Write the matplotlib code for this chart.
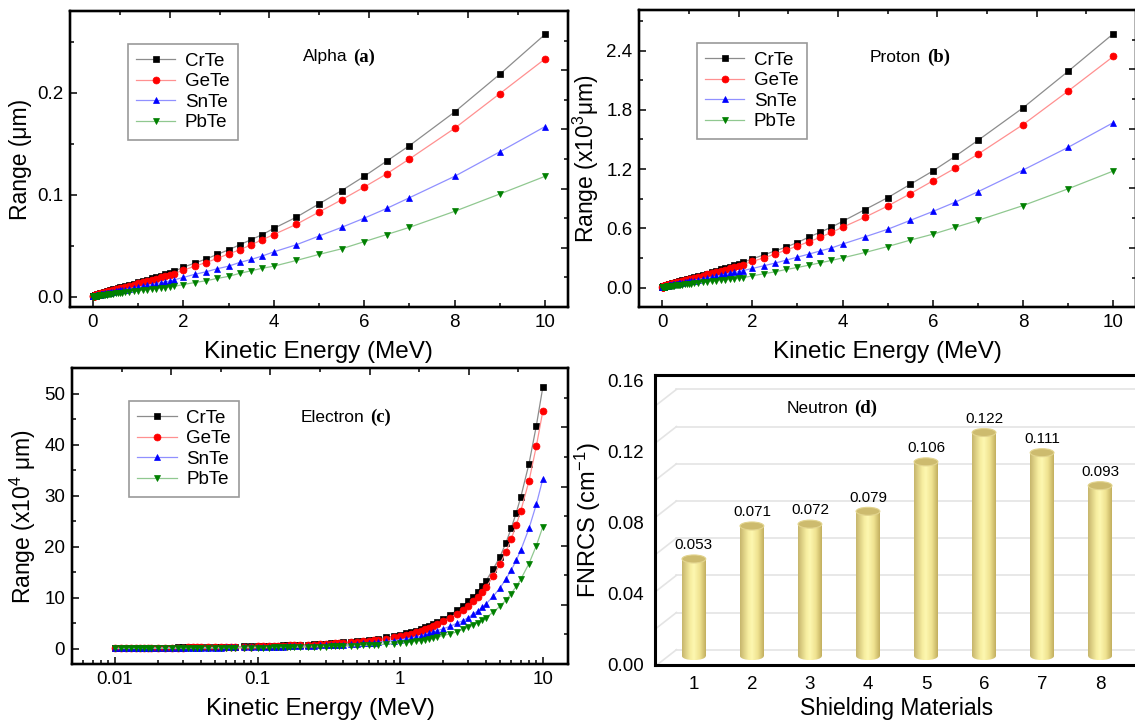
#######################################
# import libraries and useful modules #
#######################################
import numpy as np
import matplotlib
matplotlib.use("Agg")
import matplotlib.pyplot as plt
from matplotlib.patches import Ellipse
from matplotlib.colors import LinearSegmentedColormap
from matplotlib.ticker import MultipleLocator, LogLocator, NullFormatter

plt.rcParams['font.family'] = ['Liberation Sans', 'DejaVu Sans']
plt.rcParams['mathtext.fontset'] = 'custom'
plt.rcParams['mathtext.rm'] = 'Liberation Sans'
plt.rcParams['mathtext.it'] = 'Liberation Sans:italic'

########
# data #
########
materials = ["CrTe", "GeTe", "SnTe", "PbTe"]

# kinetic energy grid (MeV), same for the three range panels
energy = [0.010, 0.011, 0.012, 0.013, 0.014, 0.015, 0.016, 0.017, 0.018, 0.020,
          0.0225, 0.025, 0.0275, 0.030, 0.0325, 0.035, 0.0375, 0.040, 0.045, 0.050,
          0.055, 0.060, 0.065, 0.070, 0.080, 0.090, 0.100, 0.110, 0.120, 0.130,
          0.140, 0.150, 0.160, 0.170, 0.180, 0.200, 0.225, 0.250, 0.275, 0.300,
          0.325, 0.350, 0.375, 0.400, 0.450, 0.500, 0.550, 0.600, 0.650, 0.700,
          0.800, 0.900, 1.00, 1.10, 1.20, 1.30, 1.40, 1.50, 1.60, 1.70,
          1.80, 2.00, 2.25, 2.50, 2.75, 3.00, 3.25, 3.50, 3.75, 4.00,
          4.50, 5.00, 5.50, 6.00, 6.50, 7.00, 8.00, 9.00, 10.0]

# alpha range (um)
alpha_crte = [0.0005, 0.0005, 0.0006, 0.0006, 0.0006, 0.0007, 0.0007, 0.0007, 0.0008, 0.0008,
              0.0009, 0.0010, 0.0010, 0.0011, 0.0011, 0.0012, 0.0012, 0.0013, 0.0014, 0.0015,
              0.0016, 0.0017, 0.0018, 0.0019, 0.0020, 0.0022, 0.0024, 0.0025, 0.0027, 0.0028,
              0.0030, 0.0031, 0.0033, 0.0034, 0.0036, 0.0039, 0.0042, 0.0046, 0.0049, 0.0053,
              0.0056, 0.0059, 0.0062, 0.0067, 0.0074, 0.0080, 0.0087, 0.0093, 0.0099, 0.0105,
              0.0118, 0.0130, 0.0142, 0.0155, 0.0168, 0.0181, 0.0194, 0.0208, 0.0222, 0.0236,
              0.0250, 0.0290, 0.0330, 0.0370, 0.0415, 0.0460, 0.0510, 0.0560, 0.0610, 0.0670,
              0.0780, 0.0910, 0.1040, 0.1180, 0.1330, 0.1480, 0.1810, 0.2180, 0.2570]
alpha_gete = [0.0005, 0.0005, 0.0005, 0.0006, 0.0006, 0.0006, 0.0007, 0.0007, 0.0007, 0.0008,
              0.0008, 0.0009, 0.0010, 0.0010, 0.0011, 0.0011, 0.0012, 0.0012, 0.0013, 0.0014,
              0.0015, 0.0016, 0.0017, 0.0018, 0.0019, 0.0021, 0.0022, 0.0023, 0.0025, 0.0026,
              0.0028, 0.0029, 0.0030, 0.0032, 0.0033, 0.0036, 0.0039, 0.0042, 0.0045, 0.0049,
              0.0052, 0.0055, 0.0058, 0.0061, 0.0067, 0.0073, 0.0079, 0.0085, 0.0090, 0.0096,
              0.0108, 0.0119, 0.0131, 0.0142, 0.0154, 0.0165, 0.0177, 0.0190, 0.0202, 0.0215,
              0.0228, 0.0260, 0.0300, 0.0335, 0.0376, 0.0420, 0.0460, 0.0510, 0.0560, 0.0610,
              0.0710, 0.0830, 0.0950, 0.1075, 0.1205, 0.1350, 0.1650, 0.1990, 0.2330]
alpha_snte = [0.0004, 0.0004, 0.0004, 0.0004, 0.0005, 0.0005, 0.0005, 0.0005, 0.0005, 0.0006,
              0.0006, 0.0007, 0.0007, 0.0008, 0.0008, 0.0008, 0.0009, 0.0009, 0.0010, 0.0010,
              0.0011, 0.0012, 0.0012, 0.0013, 0.0014, 0.0015, 0.0016, 0.0017, 0.0018, 0.0019,
              0.0020, 0.0021, 0.0022, 0.0023, 0.0024, 0.0026, 0.0029, 0.0031, 0.0033, 0.0036,
              0.0038, 0.0040, 0.0042, 0.0045, 0.0049, 0.0054, 0.0058, 0.0062, 0.0066, 0.0070,
              0.0078, 0.0087, 0.0095, 0.0103, 0.0112, 0.0120, 0.0129, 0.0138, 0.0147, 0.0156,
              0.0166, 0.0190, 0.0220, 0.0245, 0.0275, 0.0300, 0.0337, 0.0366, 0.0400, 0.0440,
              0.0510, 0.0595, 0.0680, 0.0770, 0.0866, 0.0970, 0.1180, 0.1420, 0.1667]
alpha_pbte = [0.0002, 0.0002, 0.0002, 0.0003, 0.0003, 0.0003, 0.0003, 0.0003, 0.0003, 0.0003,
              0.0004, 0.0004, 0.0004, 0.0004, 0.0005, 0.0005, 0.0005, 0.0005, 0.0006, 0.0006,
              0.0007, 0.0007, 0.0007, 0.0008, 0.0008, 0.0009, 0.0010, 0.0010, 0.0011, 0.0011,
              0.0012, 0.0013, 0.0013, 0.0014, 0.0015, 0.0016, 0.0018, 0.0019, 0.0021, 0.0022,
              0.0023, 0.0025, 0.0026, 0.0028, 0.0031, 0.0033, 0.0036, 0.0039, 0.0041, 0.0044,
              0.0049, 0.0054, 0.0059, 0.0064, 0.0069, 0.0074, 0.0080, 0.0085, 0.0091, 0.0096,
              0.0102, 0.0120, 0.0140, 0.0157, 0.0180, 0.0200, 0.0230, 0.0255, 0.0280, 0.0300,
              0.0356, 0.0415, 0.0470, 0.0540, 0.0610, 0.0680, 0.0837, 0.1007, 0.1180]

# proton range (x10^3 um)
proton_crte = [0.005, 0.005, 0.006, 0.006, 0.006, 0.007, 0.007, 0.007, 0.008, 0.008,
               0.009, 0.010, 0.010, 0.011, 0.011, 0.012, 0.012, 0.013, 0.014, 0.015,
               0.016, 0.017, 0.018, 0.019, 0.020, 0.022, 0.024, 0.025, 0.027, 0.028,
               0.030, 0.031, 0.033, 0.034, 0.036, 0.039, 0.042, 0.046, 0.049, 0.053,
               0.056, 0.059, 0.062, 0.066, 0.072, 0.079, 0.085, 0.091, 0.097, 0.104,
               0.117, 0.129, 0.142, 0.155, 0.169, 0.183, 0.197, 0.211, 0.226, 0.241,
               0.257, 0.290, 0.330, 0.370, 0.410, 0.456, 0.510, 0.560, 0.610, 0.670,
               0.790, 0.910, 1.045, 1.180, 1.330, 1.490, 1.820, 2.190, 2.570]
proton_gete = [0.005, 0.005, 0.005, 0.006, 0.006, 0.006, 0.007, 0.007, 0.007, 0.008,
               0.008, 0.009, 0.010, 0.010, 0.011, 0.011, 0.012, 0.012, 0.013, 0.014,
               0.015, 0.016, 0.017, 0.018, 0.019, 0.021, 0.022, 0.023, 0.025, 0.026,
               0.028, 0.029, 0.030, 0.032, 0.033, 0.036, 0.039, 0.042, 0.045, 0.049,
               0.052, 0.055, 0.058, 0.061, 0.067, 0.073, 0.079, 0.085, 0.091, 0.097,
               0.109, 0.121, 0.133, 0.145, 0.157, 0.169, 0.182, 0.195, 0.207, 0.220,
               0.233, 0.264, 0.300, 0.338, 0.380, 0.420, 0.463, 0.507, 0.558, 0.610,
               0.713, 0.825, 0.950, 1.080, 1.210, 1.350, 1.650, 1.990, 2.340]
proton_snte = [0.004, 0.004, 0.004, 0.004, 0.005, 0.005, 0.005, 0.005, 0.005, 0.006,
               0.006, 0.007, 0.007, 0.008, 0.008, 0.008, 0.009, 0.009, 0.010, 0.010,
               0.011, 0.012, 0.012, 0.013, 0.014, 0.015, 0.016, 0.017, 0.018, 0.019,
               0.020, 0.021, 0.022, 0.023, 0.024, 0.026, 0.029, 0.031, 0.033, 0.036,
               0.038, 0.040, 0.042, 0.045, 0.049, 0.054, 0.058, 0.062, 0.066, 0.070,
               0.079, 0.088, 0.097, 0.106, 0.115, 0.124, 0.134, 0.143, 0.153, 0.162,
               0.172, 0.193, 0.220, 0.247, 0.277, 0.308, 0.338, 0.370, 0.400, 0.440,
               0.514, 0.590, 0.680, 0.770, 0.865, 0.970, 1.190, 1.420, 1.670]
proton_pbte = [0.002, 0.002, 0.002, 0.003, 0.003, 0.003, 0.003, 0.003, 0.003, 0.003,
               0.004, 0.004, 0.004, 0.004, 0.005, 0.005, 0.005, 0.005, 0.006, 0.006,
               0.007, 0.007, 0.007, 0.008, 0.008, 0.009, 0.010, 0.010, 0.011, 0.011,
               0.012, 0.013, 0.013, 0.014, 0.015, 0.016, 0.017, 0.019, 0.020, 0.022,
               0.023, 0.024, 0.025, 0.027, 0.029, 0.032, 0.034, 0.037, 0.039, 0.042,
               0.047, 0.052, 0.057, 0.062, 0.067, 0.072, 0.077, 0.082, 0.087, 0.093,
               0.100, 0.118, 0.139, 0.159, 0.183, 0.203, 0.226, 0.250, 0.274, 0.300,
               0.355, 0.415, 0.480, 0.540, 0.610, 0.680, 0.830, 1.000, 1.180]

# electron range (x10^4 um)
electron_crte = [0.10, 0.11, 0.12, 0.13, 0.14, 0.15, 0.16, 0.17, 0.18, 0.19,
                 0.21, 0.22, 0.24, 0.25, 0.26, 0.27, 0.28, 0.29, 0.31, 0.33,
                 0.35, 0.37, 0.38, 0.40, 0.43, 0.46, 0.49, 0.52, 0.55, 0.58,
                 0.60, 0.63, 0.66, 0.68, 0.71, 0.76, 0.82, 0.88, 0.94, 1.00,
                 1.06, 1.11, 1.17, 1.22, 1.33, 1.44, 1.55, 1.66, 1.77, 1.88,
                 2.20, 2.45, 2.70, 3.00, 3.25, 3.55, 3.85, 4.20, 4.50, 4.85,
                 5.20, 5.90, 6.70, 7.50, 8.40, 9.30, 10.2, 11.2, 12.3, 13.3,
                 15.7, 18.0, 20.7, 23.6, 26.6, 29.7, 36.3, 43.7, 51.3]
electron_gete = [0.09, 0.10, 0.11, 0.12, 0.13, 0.14, 0.15, 0.16, 0.16, 0.18,
                 0.19, 0.21, 0.22, 0.23, 0.24, 0.25, 0.26, 0.27, 0.29, 0.31,
                 0.32, 0.34, 0.35, 0.37, 0.40, 0.42, 0.45, 0.48, 0.50, 0.53,
                 0.55, 0.58, 0.60, 0.63, 0.65, 0.70, 0.75, 0.81, 0.86, 0.92,
                 0.97, 1.02, 1.07, 1.12, 1.22, 1.32, 1.42, 1.52, 1.62, 1.72,
                 1.95, 2.20, 2.45, 2.70, 2.95, 3.20, 3.50, 3.80, 4.10, 4.45,
                 4.80, 5.40, 6.10, 6.80, 7.60, 8.40, 9.30, 10.2, 11.2, 12.1,
                 14.2, 16.6, 18.9, 21.5, 24.2, 27.0, 32.9, 39.7, 46.6]
electron_snte = [0.07, 0.07, 0.08, 0.09, 0.09, 0.10, 0.11, 0.11, 0.12, 0.13,
                 0.14, 0.15, 0.16, 0.17, 0.17, 0.18, 0.19, 0.20, 0.21, 0.22,
                 0.23, 0.25, 0.26, 0.27, 0.29, 0.31, 0.33, 0.35, 0.37, 0.39,
                 0.40, 0.42, 0.44, 0.46, 0.48, 0.51, 0.55, 0.59, 0.63, 0.67,
                 0.71, 0.74, 0.78, 0.82, 0.89, 0.96, 1.04, 1.11, 1.19, 1.26,
                 1.42, 1.58, 1.75, 1.93, 2.12, 2.32, 2.53, 2.76, 3.00, 3.25,
                 3.50, 3.90, 4.40, 5.00, 5.50, 6.10, 6.80, 7.40, 8.10, 8.80,
                 10.3, 11.9, 13.6, 15.4, 17.3, 19.3, 23.6, 28.3, 33.3]
electron_pbte = [0.04, 0.05, 0.05, 0.05, 0.06, 0.06, 0.07, 0.07, 0.08, 0.08,
                 0.09, 0.09, 0.10, 0.10, 0.11, 0.11, 0.12, 0.12, 0.13, 0.14,
                 0.15, 0.16, 0.16, 0.17, 0.18, 0.19, 0.21, 0.22, 0.23, 0.24,
                 0.25, 0.27, 0.28, 0.29, 0.30, 0.32, 0.35, 0.37, 0.40, 0.42,
                 0.45, 0.47, 0.49, 0.52, 0.56, 0.61, 0.65, 0.70, 0.75, 0.80,
                 0.89, 1.00, 1.10, 1.21, 1.33, 1.45, 1.58, 1.72, 1.87, 2.03,
                 2.20, 2.60, 2.90, 3.30, 3.80, 4.20, 4.60, 5.10, 5.60, 6.10,
                 7.2, 8.3, 9.5, 10.8, 12.2, 13.6, 16.7, 20.2, 23.9]

# neutron removal cross section (cm^-1)
shield_ids = [1, 2, 3, 4, 5, 6, 7, 8]
fnrcs = [0.053, 0.071, 0.072, 0.079, 0.106, 0.122, 0.111, 0.093]

##########
# styles #
##########
markers = ['s', 'o', '^', 'v']
marker_colors = ['#000000', '#ff0000', '#0000ff', '#008000']
line_colors = ['#8c8c8c', '#ff9090', '#9090ff', '#90c890']


def style_axes(ax):
    for s in ax.spines.values():
        s.set_linewidth(1.6)
    ax.tick_params(which='both', direction='in', labelsize=13.5, width=1.1, pad=5)
    ax.tick_params(which='major', length=5)
    ax.tick_params(which='minor', length=3)


def opposite_ticks(ax):
    # Origin-style top/right axes with their own 0..1 scale
    tx = ax.twiny()
    tx.set_xlim(0, 1)
    tx.set_xticks([0.2, 0.4, 0.6, 0.8])
    tx.set_xticks([0.1, 0.3, 0.5, 0.7, 0.9], minor=True)
    tx.tick_params(which='both', direction='in', labeltop=False, width=1.1)
    tx.tick_params(which='major', length=5)
    tx.tick_params(which='minor', length=3)
    ty = ax.twinx()
    ty.set_ylim(0, 1)
    ty.set_yticks([0.2, 0.4, 0.6, 0.8])
    ty.set_yticks([0.1, 0.3, 0.5, 0.7, 0.9], minor=True)
    ty.tick_params(which='both', direction='in', labelright=False, width=1.1)
    ty.tick_params(which='major', length=5)
    ty.tick_params(which='minor', length=3)
    for t in (tx, ty):
        for s in t.spines.values():
            s.set_linewidth(1.6)


def panel_title(ax, x, y, word, tag):
    t = ax.text(x, y, word, fontsize=12.5, ha='left', va='center')
    ax.annotate(tag, xy=(1, 0.5), xycoords=t, xytext=(4, 0), textcoords='offset points',
                ha='left', va='center', fontsize=13.5, fontweight='bold',
                fontfamily='Liberation Serif')


def range_panel(ax, series):
    for i, ys in enumerate(series):
        ax.plot(energy, ys, color=line_colors[i], lw=0.9, marker=markers[i],
                markersize=5, markerfacecolor=marker_colors[i],
                markeredgecolor=marker_colors[i], markeredgewidth=0.5,
                label=materials[i], zorder=3)
    leg = ax.legend(loc='upper left', bbox_to_anchor=(0.115, 0.888), fontsize=13.5,
                    fancybox=False, framealpha=1, edgecolor='#9a9a9a',
                    handlelength=2.1, labelspacing=0.18, borderpad=0.45,
                    handletextpad=0.5, borderaxespad=0)
    leg.get_frame().set_linewidth(1.2)


fig = plt.figure(figsize=(11.35, 7.2), dpi=100)

#############
# alpha (a) #
#############
ax_a = fig.add_axes([0.0620, 0.5736, 0.4380, 0.4111])
range_panel(ax_a, [alpha_crte, alpha_gete, alpha_snte, alpha_pbte])
ax_a.set_xlim(-0.5, 10.5)
ax_a.set_ylim(-0.01, 0.28)
ax_a.set_xticks([0, 2, 4, 6, 8, 10])
ax_a.xaxis.set_minor_locator(MultipleLocator(1))
ax_a.set_yticks([0.0, 0.1, 0.2])
ax_a.yaxis.set_minor_locator(MultipleLocator(0.05))
style_axes(ax_a)
ax_a.set_xlabel('Kinetic Energy (MeV)', fontsize=17.5, labelpad=7)
ax_a.set_ylabel('Range (\u03bcm)', fontsize=16.5, labelpad=4)
panel_title(ax_a, 4.65, 0.235, 'Alpha', '(a)')
opposite_ticks(ax_a)

##############
# proton (b) #
##############
ax_b = fig.add_axes([0.5634, 0.5732, 0.4374, 0.4129])
range_panel(ax_b, [proton_crte, proton_gete, proton_snte, proton_pbte])
ax_b.set_xlim(-0.5, 10.5)
ax_b.set_ylim(-0.2, 2.81)
ax_b.set_xticks([0, 2, 4, 6, 8, 10])
ax_b.xaxis.set_minor_locator(MultipleLocator(1))
ax_b.set_yticks([0.0, 0.6, 1.2, 1.8, 2.4])
ax_b.yaxis.set_minor_locator(MultipleLocator(0.3))
style_axes(ax_b)
ax_b.set_xlabel('Kinetic Energy (MeV)', fontsize=17.5, labelpad=7)
ax_b.set_ylabel('Range (x10$^3$\u03bcm)', fontsize=16.5, labelpad=4)
panel_title(ax_b, 4.61, 2.33, 'Proton', '(b)')
opposite_ticks(ax_b)

################
# electron (c) #
################
ax_c = fig.add_axes([0.0634, 0.0778, 0.4370, 0.4107])
range_panel(ax_c, [electron_crte, electron_gete, electron_snte, electron_pbte])
ax_c.set_xscale('log')
ax_c.set_xlim(0.005, 15)
ax_c.set_ylim(-3, 55)
ax_c.set_xticks([0.01, 0.1, 1, 10])
ax_c.set_xticklabels(['0.01', '0.1', '1', '10'])
ax_c.xaxis.set_minor_locator(LogLocator(base=10, subs=np.arange(2, 10)))
ax_c.xaxis.set_minor_formatter(NullFormatter())
ax_c.set_yticks([0, 10, 20, 30, 40, 50])
ax_c.yaxis.set_minor_locator(MultipleLocator(5))
style_axes(ax_c)
ax_c.set_xlabel('Kinetic Energy (MeV)', fontsize=17.5, labelpad=7)
ax_c.set_ylabel('Range (x10$^4$ \u03bcm)', fontsize=16.5, labelpad=4)
panel_title(ax_c, 0.2018, 45.4, 'Electron', '(c)')
opposite_ticks(ax_c)

###############
# neutron (d) #
###############
ax_d = fig.add_axes([0.5771, 0.0764, 0.4264, 0.4028])

# perspective back-wall grid
back0, back_step, drop, wall_x = 0.0086, 0.0209, 0.0094, 0.70
for k in range(8):
    yb = back0 + k * back_step
    ax_d.plot([0.33, wall_x], [yb - drop, yb], color='#e4e4e4', lw=1.2, zorder=1)
    ax_d.plot([wall_x, 8.67], [yb, yb], color='#e4e4e4', lw=1.2, zorder=1)

cyl = LinearSegmentedColormap.from_list('cyl', [(0.0, '#c6b56c'), (0.35, '#f7eea0'),
                                                (0.5, '#fdf7b0'), (0.75, '#efe290'),
                                                (1.0, '#c2ae5e')])
grad = np.linspace(0, 1, 256)[np.newaxis, :]
bw, eh, base, depth = 0.41, 0.0045, 0.005, 1.03
for xi, v in zip(shield_ids, fnrcs):
    top = base + v * depth
    # bottom cap
    bot = Ellipse((xi, base), bw, eh, facecolor='none', edgecolor='none')
    ax_d.add_patch(bot)
    im = ax_d.imshow(grad, cmap=cyl, aspect='auto', zorder=2,
                     extent=[xi - bw / 2, xi + bw / 2, base - eh / 2, base + eh / 2])
    im.set_clip_path(bot)
    # body
    ax_d.imshow(grad, cmap=cyl, aspect='auto', zorder=3,
                extent=[xi - bw / 2, xi + bw / 2, base, top])
    # top cap
    ax_d.add_patch(Ellipse((xi, top), bw, eh, facecolor='#cdbb6e',
                           edgecolor='#e2d48e', lw=0.8, zorder=4))
    ax_d.annotate('%.3f' % v, xy=(xi, top + eh / 2), xytext=(0, 2),
                  textcoords='offset points', ha='center', va='bottom',
                  fontsize=11, zorder=5)

ax_d.set_xlim(0.33, 8.67)
ax_d.set_ylim(0, 0.163)
ax_d.set_xticks(shield_ids)
ax_d.set_yticks([0.00, 0.04, 0.08, 0.12, 0.16])
ax_d.set_yticklabels(['%.2f' % t for t in [0.00, 0.04, 0.08, 0.12, 0.16]])
ax_d.tick_params(length=0, labelsize=13.5, pad=8)
for s in ax_d.spines.values():
    s.set_linewidth(2.2)
ax_d.set_xlabel('Shielding Materials', fontsize=16.5, labelpad=3)
ax_d.set_ylabel('FNRCS (cm$^{-1}$)', fontsize=17, labelpad=3)
panel_title(ax_d, 2.6, 0.144, 'Neutron', '(d)')

fig.savefig('out.png', dpi=100)
